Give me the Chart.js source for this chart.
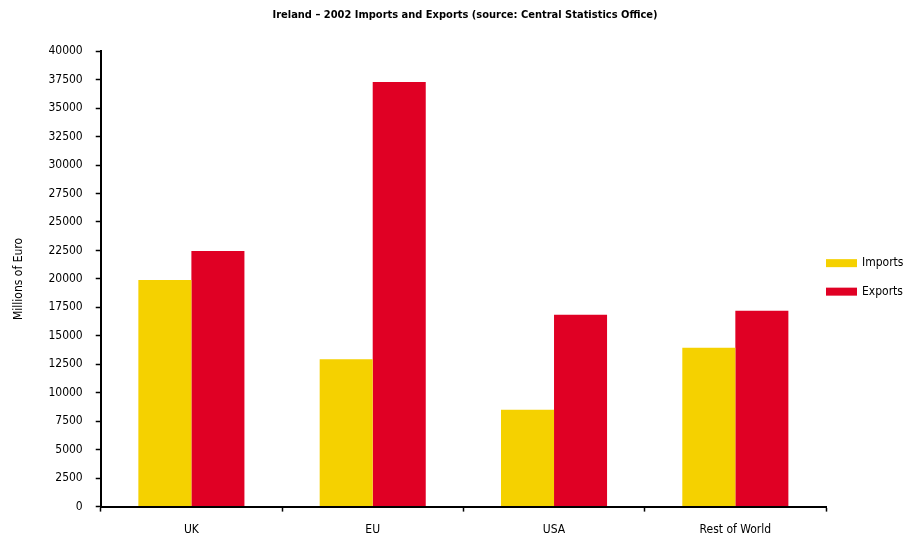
<!DOCTYPE html>
<html>
<head>
<meta charset="utf-8">
<script src="https://cdn.jsdelivr.net/npm/chart.js@4/dist/chart.umd.min.js"></script>
<style>
  html, body { margin: 0; padding: 0; background: #fff; }
  #chart { display: block; }
</style>
</head>
<body>
<canvas id="chart" width="903" height="536"></canvas>
<script>
const categories = ["UK", "EU", "USA", "Rest of World"];
const imports = [19900, 12950, 8500, 13950];
const exports = [22450, 37300, 16850, 17200];
const yTicksMax = 40000;
const yStep = 2500;

const fontFamily = '"Liberation Sans Narrow", "DejaVu Sans Condensed", "Liberation Sans", sans-serif';
Chart.defaults.font.family = fontFamily;
Chart.defaults.color = '#000';

// legend drawn by hand so the boxes sit flush against the plot's right edge
const sideLegend = {
  id: 'sideLegend',
  afterDraw(chart) {
    const { ctx, chartArea } = chart;
    const sets = chart.data.datasets;
    const gap = 28.5;
    const mid = (chartArea.top + chartArea.bottom) / 2 - 1.5;
    const y0 = mid - gap * (sets.length - 1) / 2;
    ctx.save();
    ctx.font = '12px ' + fontFamily;
    ctx.textBaseline = 'middle';
    sets.forEach((ds, i) => {
      const y = y0 + i * gap;
      const x = chartArea.right;
      ctx.fillStyle = ds.backgroundColor;
      ctx.fillRect(x, y - 4, 31, 8);
      ctx.fillStyle = '#000';
      ctx.fillText(ds.label, x + 36, y);
    });
    ctx.restore();
  }
};

const ctx = document.getElementById('chart');

new Chart(ctx, {
  type: 'bar',
  data: {
    labels: categories,
    datasets: [
      {
        label: 'Imports',
        data: imports,
        backgroundColor: '#f5d100',
        borderWidth: 0,
        categoryPercentage: 0.585,
        barPercentage: 1
      },
      {
        label: 'Exports',
        data: exports,
        backgroundColor: '#e00024',
        borderWidth: 0,
        categoryPercentage: 0.585,
        barPercentage: 1
      }
    ]
  },
  options: {
    responsive: false,
    animation: false,
    layout: {
      padding: { left: 12, right: -15, top: 9, bottom: -12 }
    },
    plugins: {
      title: {
        display: true,
        text: 'Ireland \u2013 2002 Imports and Exports (source: Central Statistics Office)',
        color: '#000',
        font: { size: 11, weight: 'bold' },
        padding: { top: 0, bottom: 29 }
      },
      legend: { display: false },
      tooltip: { enabled: false }
    },
    scales: {
      x: {
        grid: {
          display: true,
          drawOnChartArea: false,
          drawTicks: true,
          tickLength: 5,
          tickColor: '#000',
          tickWidth: 1.5,
          offset: true
        },
        border: { color: '#000', width: 2 },
        ticks: { color: '#000', font: { size: 12 }, padding: 11 }
      },
      y: {
        min: 0,
        max: yTicksMax,
        ticks: {
          stepSize: yStep,
          color: '#000',
          font: { size: 12 },
          padding: 13,
          callback: value => String(value)
        },
        grid: {
          display: true,
          drawOnChartArea: false,
          drawTicks: true,
          tickLength: 5,
          tickColor: '#000',
          tickWidth: 1.5
        },
        border: { color: '#000', width: 2 },
        title: {
          display: true,
          text: 'Millions of Euro',
          color: '#000',
          font: { size: 12 },
          padding: { top: 0, bottom: 9 }
        }
      },
      // empty axis on the right that only keeps room for the legend
      legendRoom: {
        type: 'linear',
        position: 'right',
        display: true,
        grid: { display: false },
        border: { display: false },
        ticks: { display: false },
        afterFit(scale) { scale.width = 92; }
      }
    }
  },
  plugins: [sideLegend]
});
</script>
</body>
</html>
